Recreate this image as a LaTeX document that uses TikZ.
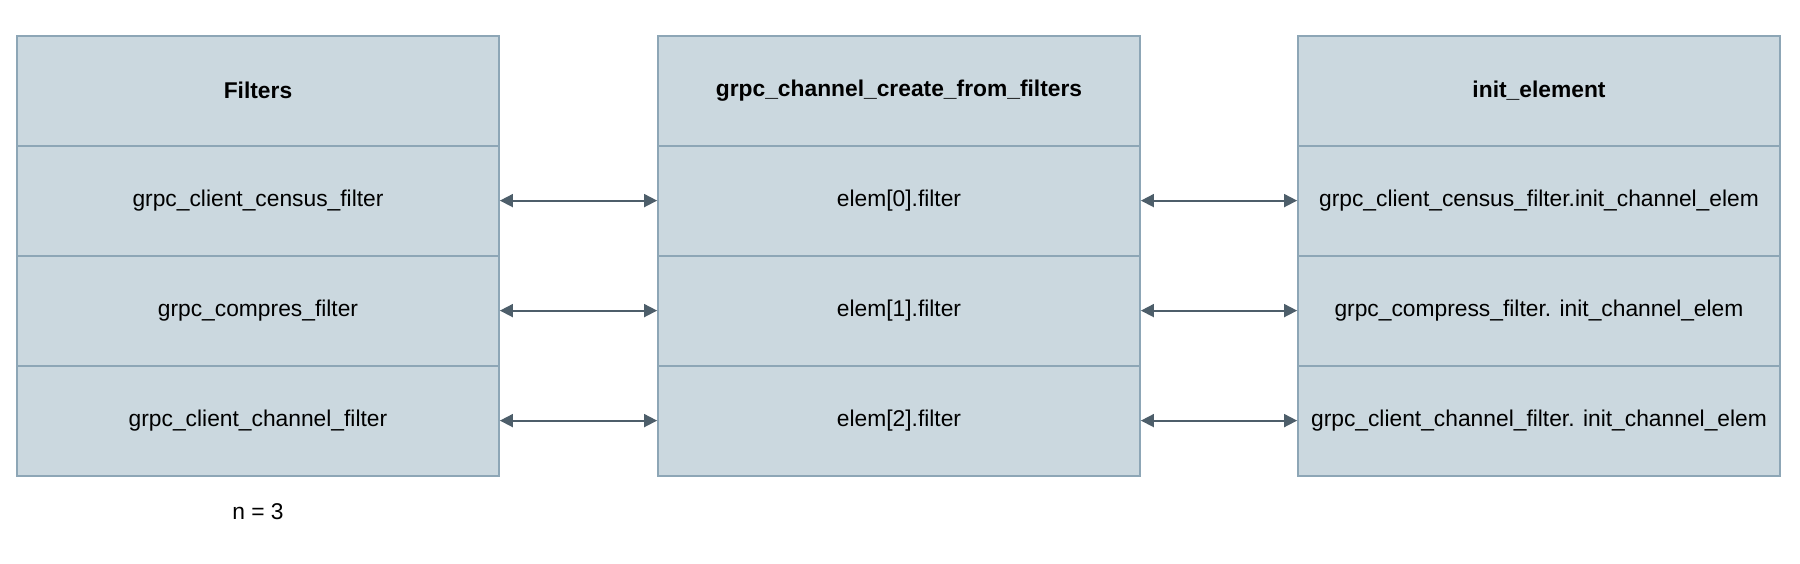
\documentclass[tikz,border=0pt]{standalone}
\usepackage{fontspec}
\setmainfont{Liberation Sans}
\usetikzlibrary{arrows.meta}
\definecolor{box_fill}{HTML}{CBD8DF}
\definecolor{box_line}{HTML}{8DA6B6}
\definecolor{link_line}{HTML}{4D5E6A}

\begin{document}
\begin{tikzpicture}[
  x=1pt, y=1pt,
  row_box/.style={rectangle, minimum width=241pt, minimum height=55pt, inner sep=0pt, fill=box_fill, draw=box_line, line width=0.9pt, font=\fontsize{11.4}{13}\selectfont},
  head_box/.style={row_box, font=\fontsize{11.4}{13}\selectfont\bfseries},
  link/.style={draw=link_line, line width=0.9pt, {Triangle[length=6.5pt,width=6.5pt]}-{Triangle[length=6.5pt,width=6.5pt]}},
]
\useasboundingbox (0,0) rectangle (900,-281.5);
\draw (129,-45.3) node (f0) [head_box] {Filters};
\draw (129,-100.3) node (f1) [row_box] {grpc\_client\_census\_filter};
\draw (129,-155.3) node (f2) [row_box] {grpc\_compres\_filter};
\draw (129,-210.3) node (f3) [row_box] {grpc\_client\_channel\_filter};
\draw (449.5,-45.3) node (c0) [head_box] {grpc\_channel\_create\_from\_filters};
\draw (449.5,-100.3) node (c1) [row_box] {elem[0].filter};
\draw (449.5,-155.3) node (c2) [row_box] {elem[1].filter};
\draw (449.5,-210.3) node (c3) [row_box] {elem[2].filter};
\draw (769.5,-45.3) node (i0) [head_box] {init\_element};
\draw (769.5,-100.3) node (i1) [row_box] {grpc\_client\_census\_filter.init\_channel\_elem};
\draw (769.5,-155.3) node (i2) [row_box] {grpc\_compress\_filter. init\_channel\_elem};
\draw (769.5,-210.3) node (i3) [row_box] {grpc\_client\_channel\_filter. init\_channel\_elem};
\draw (129,-256) node (n) [font=\fontsize{11.4}{13}\selectfont] {n = 3};
\foreach \k in {1,2,3} {
  \draw [link] (f\k.east) -- (c\k.west);
  \draw [link] (c\k.east) -- (i\k.west);
}
\end{tikzpicture}
\end{document}
